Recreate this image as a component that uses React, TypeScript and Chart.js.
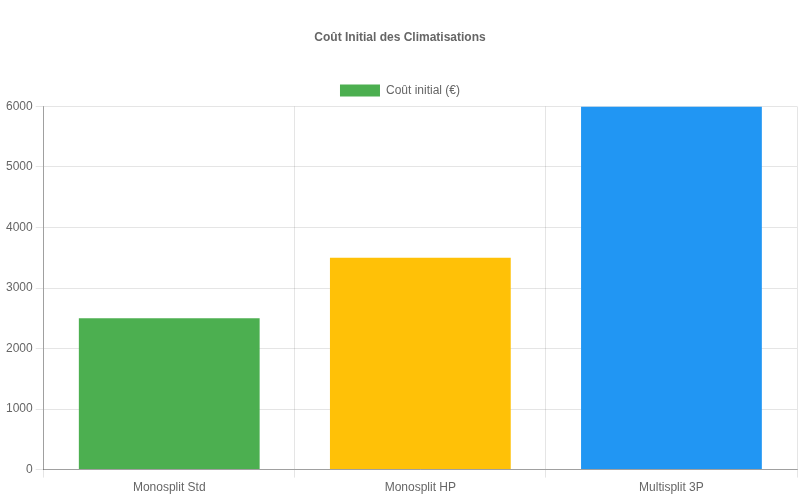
import { useEffect, useRef } from "react"
import Chart from "chart.js/auto"

const categories = ["Monosplit Std", "Monosplit HP", "Multisplit 3P"]
const costs = [2500, 3500, 6000]
const barColors = ["#4CAF50", "#FFC107", "#2196F3"]

const App = () => {
  const canvasRef = useRef<HTMLCanvasElement>(null)
  const chartRef = useRef<Chart | null>(null)

  useEffect(() => {
    document.body.style.margin = "0"
    if (!canvasRef.current) return
    if (chartRef.current) chartRef.current.destroy()

    Chart.defaults.font.family = "'Liberation Sans', Arial, sans-serif"
    Chart.defaults.color = "#666"

    chartRef.current = new Chart(canvasRef.current, {
      type: "bar",
      data: {
        labels: categories,
        datasets: [
          {
            label: "Coût initial (€)",
            data: costs,
            backgroundColor: barColors,
            borderWidth: 0,
          },
        ],
      },
      options: {
        animation: false,
        responsive: true,
        maintainAspectRatio: false,
        layout: { padding: { left: 3, right: 3, bottom: 2 } },
        plugins: {
          title: {
            display: true,
            text: "Coût Initial des Climatisations",
            font: { size: 12, weight: "bold" },
            padding: { top: 30, bottom: 30 },
          },
          legend: {
            position: "top",
          },
        },
        scales: {
          x: {
            border: { color: "rgba(0,0,0,0.3)" },
          },
          y: {
            beginAtZero: true,
            max: 6000,
            border: { color: "rgba(0,0,0,0.3)" },
            ticks: { stepSize: 1000, callback: (v) => String(v) },
          },
        },
      },
    })

    return () => {
      chartRef.current?.destroy()
      chartRef.current = null
    }
  }, [])

  return (
    <div style={{ width: 800, height: 500, position: "relative" }}>
      <canvas ref={canvasRef} />
    </div>
  )
}

export default App
